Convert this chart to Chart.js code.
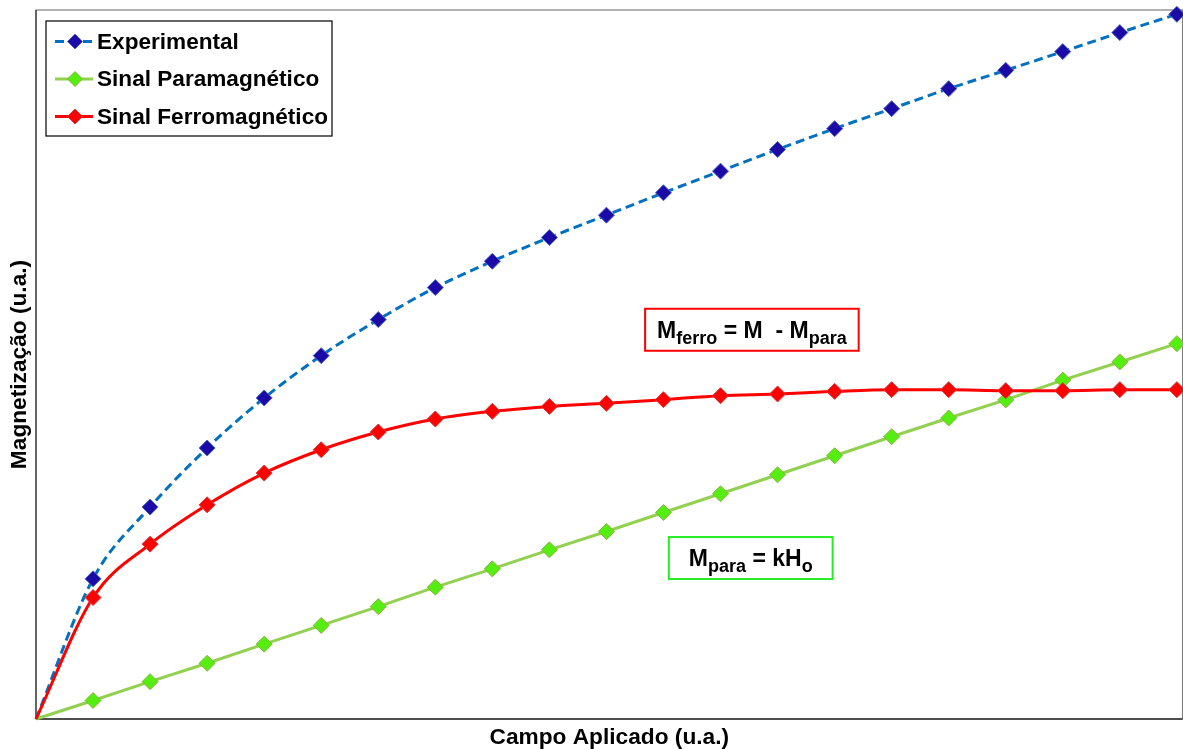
<!DOCTYPE html>
<html>
<head>
<meta charset="utf-8">
<script src="https://cdn.jsdelivr.net/npm/chart.js@4.4.1/dist/chart.umd.min.js"></script>
<style>
  html, body { margin: 0; padding: 0; background: #ffffff; }
  #wrap { width: 1183px; height: 749px; }
</style>
</head>
<body>
<div id="wrap"><canvas id="chart" width="1183" height="749"></canvas></div>
<script>
// Applied field steps (arbitrary units)
const campo = [0, 1, 2, 3, 4, 5, 6, 7, 8, 9, 10, 11, 12, 13, 14, 15, 16, 17, 18, 19, 20];

// Measured magnetization (total signal)
const experimental = [0, 19.77, 29.89, 38.22, 45.28, 51.25, 56.33, 60.85, 64.56, 67.91, 71.06,
  74.22, 77.27, 80.33, 83.26, 86.08, 88.90, 91.49, 94.13, 96.81, 99.39];

// Paramagnetic contribution M_para = k·H
const paramagnetico = [0, 2.61, 5.27, 7.86, 10.55, 13.20, 15.85, 18.59, 21.18, 23.86, 26.44,
  29.13, 31.77, 34.45, 37.13, 39.81, 42.45, 45.00, 47.80, 50.36, 52.94];

// Ferromagnetic contribution M_ferro = M - M_para
const ferromagnetico = [0, 17.13, 24.66, 30.21, 34.69, 37.98, 40.48, 42.31, 43.39, 44.09, 44.52,
  45.04, 45.60, 45.84, 46.21, 46.45, 46.45, 46.31, 46.31, 46.45, 46.45];

const serieNomes = ['Experimental', 'Sinal Paramagnético', 'Sinal Ferromagnético'];
const tituloX = 'Campo Aplicado (u.a.)';
const tituloY = 'Magnetização (u.a.)';

const FONT = "'Liberation Sans', Arial, Helvetica, sans-serif";

// field value where the plot frame closes on the right
const campoFim = 20.1;

const toXY = (ys) => ys.map((y, i) => ({ x: campo[i], y }));
const markerRadius = (ctx) => (ctx.dataIndex === 0 ? 0 : 8);

// Equation boxes anchored in data coordinates
const equacoes = [
  { x: 12.55, y: 54.9, border: '#ff0000', pad: 12,
    parts: [['M', false], ['ferro', true], [' = M  - M', false], ['para', true]] },
  { x: 12.53, y: 22.7, border: '#22ee22', pad: 20,
    parts: [['M', false], ['para', true], [' = kH', false], ['o', true]] }
];

const framePlugin = {
  id: 'frame',
  beforeDatasetsDraw(chart) {
    const { ctx, chartArea: a, scales } = chart;
    const right = scales.x.getPixelForValue(campoFim);
    ctx.save();
    ctx.strokeStyle = '#7f7f7f';
    ctx.lineWidth = 1.2;
    ctx.strokeRect(a.left, a.top, right - a.left, a.bottom - a.top);
    ctx.strokeStyle = '#4d4d4d';
    ctx.lineWidth = 2;
    ctx.beginPath();
    ctx.moveTo(a.left, a.bottom);
    ctx.lineTo(right, a.bottom);
    ctx.stroke();
    ctx.lineWidth = 1.5;
    ctx.beginPath();
    ctx.moveTo(a.left, a.top);
    ctx.lineTo(a.left, a.bottom);
    ctx.stroke();

    // axis titles
    ctx.fillStyle = '#000000';
    ctx.font = 'bold 22.7px ' + FONT;
    ctx.textAlign = 'center';
    ctx.textBaseline = 'middle';
    ctx.fillText(tituloX, (a.left + right) / 2, 738);
    ctx.translate(20, (a.top + a.bottom) / 2);
    ctx.rotate(-Math.PI / 2);
    ctx.fillText(tituloY, 0, 0);
    ctx.restore();
  }
};

function drawDiamond(ctx, x, y, r, fill, stroke) {
  ctx.beginPath();
  ctx.moveTo(x - r, y);
  ctx.lineTo(x, y - r);
  ctx.lineTo(x + r, y);
  ctx.lineTo(x, y + r);
  ctx.closePath();
  ctx.fillStyle = fill;
  ctx.fill();
  ctx.strokeStyle = stroke;
  ctx.lineWidth = 1;
  ctx.stroke();
}

const overlayPlugin = {
  id: 'overlay',
  afterDraw(chart) {
    const { ctx, scales } = chart;
    ctx.save();

    // equation boxes
    equacoes.forEach(eq => {
      const cx = scales.x.getPixelForValue(eq.x);
      const cy = scales.y.getPixelForValue(eq.y);
      const big = 'bold 23px ' + FONT;
      const small = 'bold 18px ' + FONT;
      let w = 0;
      eq.parts.forEach(([t, sub]) => { ctx.font = sub ? small : big; w += ctx.measureText(t).width; });
      const bw = w + 2 * eq.pad, bh = 42;
      ctx.fillStyle = '#ffffff';
      ctx.fillRect(cx - bw / 2, cy - bh / 2, bw, bh);
      ctx.strokeStyle = eq.border;
      ctx.lineWidth = 2;
      ctx.strokeRect(cx - bw / 2, cy - bh / 2, bw, bh);
      let tx = cx - w / 2;
      const base = cy + 8;
      ctx.fillStyle = '#000000';
      ctx.textAlign = 'left';
      ctx.textBaseline = 'alphabetic';
      eq.parts.forEach(([t, sub]) => {
        ctx.font = sub ? small : big;
        ctx.fillText(t, tx, sub ? base + 6 : base);
        tx += ctx.measureText(t).width;
      });
    });

    // legend box
    const lx = 46, ly = 21, lw = 286, lh = 115;
    ctx.fillStyle = '#ffffff';
    ctx.fillRect(lx, ly, lw, lh);
    ctx.strokeStyle = '#000000';
    ctx.lineWidth = 1.2;
    ctx.strokeRect(lx, ly, lw, lh);
    chart.data.datasets.forEach((ds, i) => {
      const y = 41.5 + i * 37.5;
      ctx.save();
      ctx.strokeStyle = ds.borderColor;
      ctx.lineWidth = 3;
      ctx.setLineDash(ds.borderDash || []);
      ctx.beginPath();
      ctx.moveTo(55, y);
      ctx.lineTo(93, y);
      ctx.stroke();
      ctx.restore();
      drawDiamond(ctx, 75, y, 7.5, ds.pointBackgroundColor, ds.pointBorderColor);
      ctx.fillStyle = '#000000';
      ctx.font = 'bold 22.6px ' + FONT;
      ctx.textAlign = 'left';
      ctx.textBaseline = 'middle';
      ctx.fillText(ds.label, 97, y + 1);
    });
    ctx.restore();
  }
};

new Chart(document.getElementById('chart'), {
  type: 'line',
  data: {
    datasets: [
      {
        label: serieNomes[0],
        data: toXY(experimental),
        borderColor: '#0070c0',
        borderWidth: 3,
        borderDash: [9, 5],
        cubicInterpolationMode: 'monotone',
        pointStyle: 'rectRot',
        pointRadius: markerRadius,
        pointBackgroundColor: '#1c0aa6',
        pointBorderColor: '#4a68c8',
        pointBorderWidth: 1,
        clip: false,
        order: 3
      },
      {
        label: serieNomes[1],
        data: toXY(paramagnetico),
        borderColor: '#92d050',
        borderWidth: 3,
        tension: 0,
        pointStyle: 'rectRot',
        pointRadius: markerRadius,
        pointBackgroundColor: '#55ee11',
        pointBorderColor: '#8fb040',
        pointBorderWidth: 1,
        clip: false,
        order: 2
      },
      {
        label: serieNomes[2],
        data: toXY(ferromagnetico),
        borderColor: '#ff0000',
        borderWidth: 3,
        cubicInterpolationMode: 'monotone',
        pointStyle: 'rectRot',
        pointRadius: markerRadius,
        pointBackgroundColor: '#ff0000',
        pointBorderColor: '#d23c3c',
        pointBorderWidth: 1,
        clip: false,
        order: 1
      }
    ]
  },
  options: {
    responsive: false,
    animation: false,
    layout: { padding: { left: 36, top: 10, right: 1, bottom: 30 } },
    scales: {
      x: { type: 'linear', min: 0, max: 19.95, display: false },
      y: { type: 'linear', min: 0, max: 100, display: false }
    },
    plugins: {
      legend: { display: false },
      tooltip: { enabled: false }
    }
  },
  plugins: [framePlugin, overlayPlugin]
});
</script>
</body>
</html>
